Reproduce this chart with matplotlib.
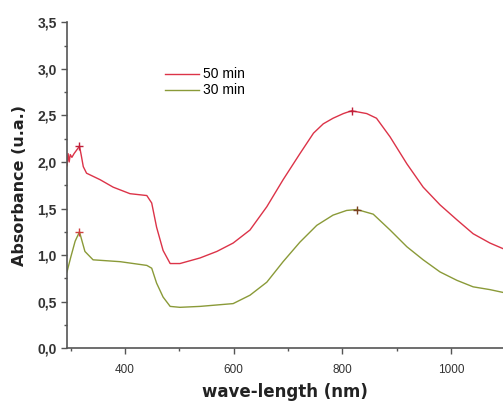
import matplotlib.pyplot as plt
from matplotlib.ticker import MultipleLocator, FuncFormatter

# wavelength (nm) / absorbance
wl_50 = [293, 295, 297, 299, 302, 306, 311, 316, 319, 323, 329, 354, 378, 409, 440,
         449, 458, 470, 483, 501, 538, 569, 599, 630, 661, 691, 722, 747, 765, 783,
         802, 817, 845, 863, 888, 919, 949, 980, 1011, 1041, 1072, 1096]
abs_50 = [1.96, 2.09, 2.00, 2.08, 2.05, 2.09, 2.13, 2.17, 2.08, 1.95, 1.88, 1.81, 1.73, 1.66, 1.64,
          1.56, 1.30, 1.05, 0.91, 0.91, 0.97, 1.04, 1.13, 1.27, 1.52, 1.81, 2.09, 2.31, 2.41, 2.47,
          2.52, 2.55, 2.52, 2.47, 2.27, 1.98, 1.73, 1.54, 1.38, 1.23, 1.13, 1.07]

wl_30 = [293, 300, 308, 316, 326, 341, 391, 440, 449, 458, 470, 483, 501, 538, 599,
         630, 661, 691, 722, 753, 783, 808, 827, 857, 888, 919, 949, 980, 1011, 1041, 1072, 1096]
abs_30 = [0.82, 0.98, 1.15, 1.25, 1.04, 0.95, 0.93, 0.89, 0.86, 0.70, 0.55, 0.45, 0.44, 0.45, 0.48,
          0.57, 0.71, 0.93, 1.14, 1.32, 1.43, 1.48, 1.49, 1.44, 1.27, 1.09, 0.95, 0.82, 0.73, 0.66, 0.63, 0.60]

peaks_50 = ([316, 817], [2.17, 2.55])
peaks_30 = ([316, 827], [1.25, 1.49])

red = "#dc3348"
olive = "#8a9a38"

fig = plt.figure(figsize=(5.03, 4.03), dpi=100)
ax = fig.add_axes([0.1332, 0.1357, 0.8668, 0.809])

ax.plot(wl_50, abs_50, color=red, lw=1.0, label="50 min")
ax.plot(wl_30, abs_30, color=olive, lw=1.0, label="30 min")
ax.plot(*peaks_50, "+", color="#c0203a", ms=6, mew=1.0)
ax.plot([peaks_30[0][0]], [peaks_30[1][0]], "+", color="#d04040", ms=6, mew=1.0)
ax.plot([peaks_30[0][1]], [peaks_30[1][1]], "+", color="#7a4020", ms=6, mew=1.0)

ax.set_xlim(293, 1096)
ax.set_ylim(0, 3.5)
ax.xaxis.set_major_locator(MultipleLocator(200))
ax.xaxis.set_minor_locator(MultipleLocator(100))
ax.yaxis.set_major_locator(MultipleLocator(0.5))
ax.yaxis.set_minor_locator(MultipleLocator(0.25))
ax.yaxis.set_major_formatter(FuncFormatter(lambda v, p: f"{v:.1f}".replace(".", ",")))

for s in ["top", "right"]:
    ax.spines[s].set_visible(False)
for s in ["left", "bottom"]:
    ax.spines[s].set_color("#555555")
    ax.spines[s].set_linewidth(1.2)

ax.tick_params(which="major", length=4, width=1, color="#555555", labelcolor="#333333")
ax.tick_params(which="minor", length=2.5, width=1, color="#555555")
ax.tick_params(axis="y", labelsize=10)
ax.tick_params(axis="x", labelsize=8.5, pad=7)
for lab in ax.get_yticklabels():
    lab.set_fontweight("bold")
    lab.set_family("Liberation Sans")
for lab in ax.get_xticklabels():
    lab.set_family("Liberation Sans")

ax.set_xlabel("wave-length (nm)", fontsize=12, fontweight="bold", color="#222222", labelpad=5)
ax.set_ylabel("Absorbance (u.a.)", fontsize=11.5, fontweight="bold", color="#222222", labelpad=7)

ax.legend(frameon=False, loc="upper left", bbox_to_anchor=(0.195, 0.9),
          handlelength=2.5, handletextpad=0.3, labelspacing=0.15,
          prop={"family": "Liberation Sans", "size": 10})

fig.savefig("out.png", dpi=100)
